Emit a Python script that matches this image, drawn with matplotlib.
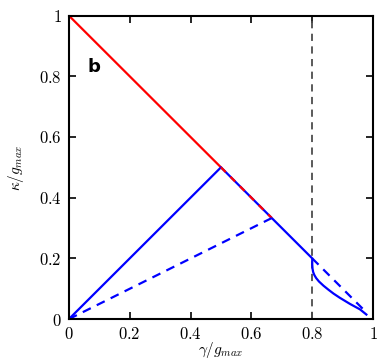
import numpy as np
import matplotlib
matplotlib.use('Agg')
import matplotlib.pyplot as plt
from matplotlib.ticker import FuncFormatter

plt.rcParams['mathtext.fontset'] = 'cm'
plt.rcParams['font.family'] = 'serif'
plt.rcParams['font.serif'] = ['DejaVu Serif']

# red branch (solid then dashed)
red_x = [0.0, 0.5]
red_y = [1.0, 0.5]
red_dash_x = [0.5, 0.667]
red_dash_y = [0.5, 0.333]

# blue solid branch
blue_x = [0.0, 0.5, 0.8, 0.8, 0.801, 0.803, 0.807, 0.813, 0.822, 0.837, 0.853,
          0.87, 0.891, 0.924, 0.957, 0.978]
blue_y = [0.0, 0.5, 0.2, 0.18, 0.166, 0.155, 0.145, 0.135, 0.124, 0.11, 0.097,
          0.084, 0.07, 0.05, 0.032, 0.015]

# blue dashed branches
blue_d1_x = [0.0, 0.667]
blue_d1_y = [0.0, 0.333]
blue_d2_x = [0.8, 0.979]
blue_d2_y = [0.2, 0.021]

gamma_c = 0.8

fig = plt.figure(figsize=(3.87, 3.63), dpi=100)
ax = fig.add_axes([0.178, 0.121, 0.786, 0.836])

ax.axvline(gamma_c, color='#4d4d4d', ls=(0, (4, 3)), lw=1.3)
ax.plot(red_x, red_y, color='red', lw=1.6)
ax.plot(blue_x, blue_y, color='blue', lw=1.6)
ax.plot(red_dash_x, red_dash_y, color='red', lw=1.6, ls=(0, (3, 3)))
ax.plot(blue_d1_x, blue_d1_y, color='blue', lw=1.6, ls=(0, (4, 3)))
ax.plot(blue_d2_x, blue_d2_y, color='blue', lw=1.6, ls=(0, (4, 3)))

ax.set_xlim(0, 1)
ax.set_ylim(0, 1)
ticks = [0, 0.2, 0.4, 0.6, 0.8, 1]
ax.set_xticks(ticks)
ax.set_yticks(ticks)
fmt = FuncFormatter(lambda v, p: '$%g$' % v)
ax.xaxis.set_major_formatter(fmt)
ax.yaxis.set_major_formatter(fmt)
ax.tick_params(direction='in', top=True, right=True, length=5, width=1.2, labelsize=12, pad=5)
for s in ax.spines.values():
    s.set_linewidth(1.5)

ax.set_xlabel(r'$\gamma/g_{max}$', fontsize=11)
ax.set_ylabel(r'$\kappa/g_{max}$', fontsize=11)
ax.xaxis.set_label_coords(0.5, -0.07)
ax.yaxis.set_label_coords(-0.14, 0.5)

ax.text(0.06, 0.83, 'b', transform=ax.transAxes, fontsize=13, fontweight='bold',
        family='DejaVu Sans', va='center')

fig.savefig('out.png', dpi=100)
